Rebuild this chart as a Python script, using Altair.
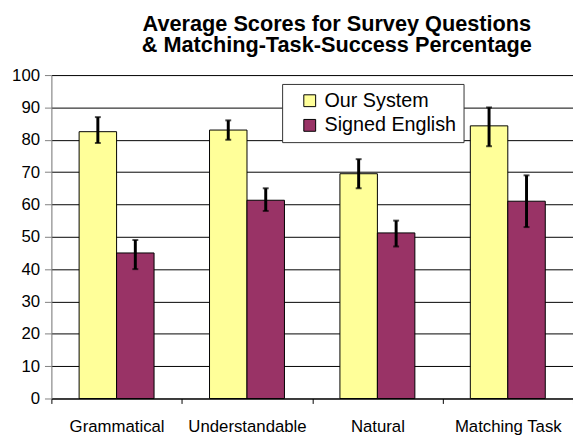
import altair as alt
import pandas as pd

categories = ["Grammatical", "Understandable", "Natural", "Matching Task"]
series = ["Our System", "Signed English"]
our_system = [82.5, 83.0, 69.5, 84.3]
our_system_lo = [79, 80, 65, 78]
our_system_hi = [87, 86, 74, 90]
signed_english = [45.0, 61.3, 51.2, 61.0]
signed_english_lo = [40, 58, 47, 53]
signed_english_hi = [49, 65, 55, 69]
y_ticks = [0, 10, 20, 30, 40, 50, 60, 70, 80, 90, 100]

rows = []
for i, c in enumerate(categories):
    rows.append({"category": c, "series": series[0], "value": our_system[i],
                 "lo": our_system_lo[i], "hi": our_system_hi[i]})
    rows.append({"category": c, "series": series[1], "value": signed_english[i],
                 "lo": signed_english_lo[i], "hi": signed_english_hi[i]})
df = pd.DataFrame(rows)

FONT = "Liberation Sans"

x = alt.X("category:N", sort=categories, title=None,
          scale=alt.Scale(paddingInner=0, paddingOuter=0),
          axis=alt.Axis(labelAngle=0, labelFontSize=17, labelFont=FONT, labelColor="black",
                        tickBand="extent", tickSize=5, tickColor="black",
                        domainColor="black", labelPadding=15, grid=False))
xo = alt.XOffset("series:N", sort=series,
                 scale=alt.Scale(paddingOuter=0.74, paddingInner=0))

y_axis = alt.Axis(values=y_ticks, labelFontSize=17, labelFont=FONT, labelOverlap=False,
                  labelColor="black", tickSize=7, tickColor="#808080",
                  domainColor="#808080", labelPadding=5,
                  grid=True, gridColor="black", gridWidth=1)
y_scale = alt.Scale(domain=[0, 100], nice=False)


def y_enc(field):
    return alt.Y(field, title=None, scale=y_scale, axis=y_axis)


base = alt.Chart(df)

bars = base.mark_bar(stroke="black", strokeWidth=1).encode(
    x=x, xOffset=xo,
    y=y_enc("value:Q"),
    color=alt.Color("series:N", sort=series, title=None,
                    scale=alt.Scale(domain=series, range=["#FFFF99", "#993366"]),
                    legend=alt.Legend(orient="none", legendX=234, legendY=9,
                                      fillColor="white", strokeColor="#333333",
                                      padding=7, symbolType="square", symbolSize=144,
                                      symbolStrokeColor="black", symbolStrokeWidth=1,
                                      symbolOffset=11, labelOffset=5,
                                      labelFontSize=20, labelFont=FONT, labelColor="black",
                                      rowPadding=5)),
)

rules = base.mark_rule(color="black", strokeWidth=3).encode(
    x=x, xOffset=xo, y=y_enc("lo:Q"), y2="hi:Q")

caps_hi = base.mark_tick(color="black", thickness=2, size=6, orient="horizontal").encode(
    x=x, xOffset=xo, y=y_enc("hi:Q"))
caps_lo = base.mark_tick(color="black", thickness=2, size=6, orient="horizontal").encode(
    x=x, xOffset=xo, y=y_enc("lo:Q"))

chart = alt.layer(bars, rules, caps_hi, caps_lo).properties(
    width=529, height=328,
    autosize=alt.AutoSizeParams(type="none"),
    padding={"left": 44, "top": 65, "right": 0, "bottom": 35},
    title=alt.TitleParams(
        ["Average Scores for Survey Questions", "& Matching-Task-Success Percentage"],
        font=FONT, fontSize=22, fontWeight="bold", color="black",
        anchor="middle", dx=25, offset=9, lineHeight=22),
).configure_view(fill="#C0C0C0", stroke=None).configure(background="white")

chart.save("out.html", embed_options={"renderer": "svg", "actions": False})
